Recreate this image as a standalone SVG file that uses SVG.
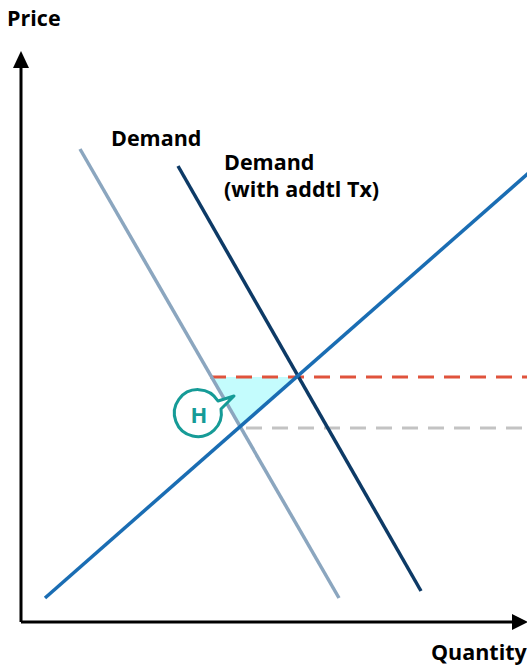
<svg xmlns="http://www.w3.org/2000/svg" width="527" height="665" viewBox="0 0 527 665">
<defs>
<style>
text{font-family:"Open Sans","Liberation Sans",sans-serif;font-weight:bold;font-size:21.5px;fill:#000}
.ax{stroke:#000;stroke-width:3;fill:none}
.ln{stroke-width:3.5;fill:none}
.dash{stroke-width:3;stroke-dasharray:16 10;fill:none}
</style>
</defs>
<rect width="527" height="665" fill="#fff"/>
<g id="area-H">
<polygon points="212,377 297,377 239,428" fill="#c4fcfd"/>
</g>
<g id="axes">
<line class="ax" x1="21" y1="622" x2="21" y2="64"/>
<polygon points="21,51 13,68 29,68" fill="#000"/>
<line class="ax" x1="21" y1="622" x2="515" y2="622"/>
<polygon points="528,622 512,614 512,630" fill="#000"/>
<text x="7" y="26">Price</text>
<text x="431" y="660">Quantity</text>
</g>
<g id="connectors">
<line class="dash" x1="210" y1="377" x2="527" y2="377" stroke="#e0533c"/>
<line class="dash" x1="246" y1="428" x2="527" y2="428" stroke="#c3c3c3"/>
<line id="demand" class="ln" x1="80" y1="149" x2="339" y2="598" stroke="#8ba6bf"/>
<line id="demand-tx" class="ln" x1="178" y1="166" x2="421" y2="591" stroke="#0d3a66"/>
<line id="supply" class="ln" x1="45" y1="598" x2="532" y2="170" stroke="#1a6db3"/>
</g>
<g id="label-demand"><text x="111" y="146">Demand</text></g>
<g id="label-demand-tx"><text x="224" y="170">Demand</text><text x="224" y="197">(with addtl Tx)</text></g>
<g id="callout-H">
<path d="M 218,401 A 23.5,23.5 0 1 0 221,409 L 234,396 Z" fill="#fff" stroke="#169b97" stroke-width="3" stroke-linejoin="round"/>
<text x="199" y="423" text-anchor="middle" style="fill:#169b97;font-size:22px">H</text>
</g>
</svg>
